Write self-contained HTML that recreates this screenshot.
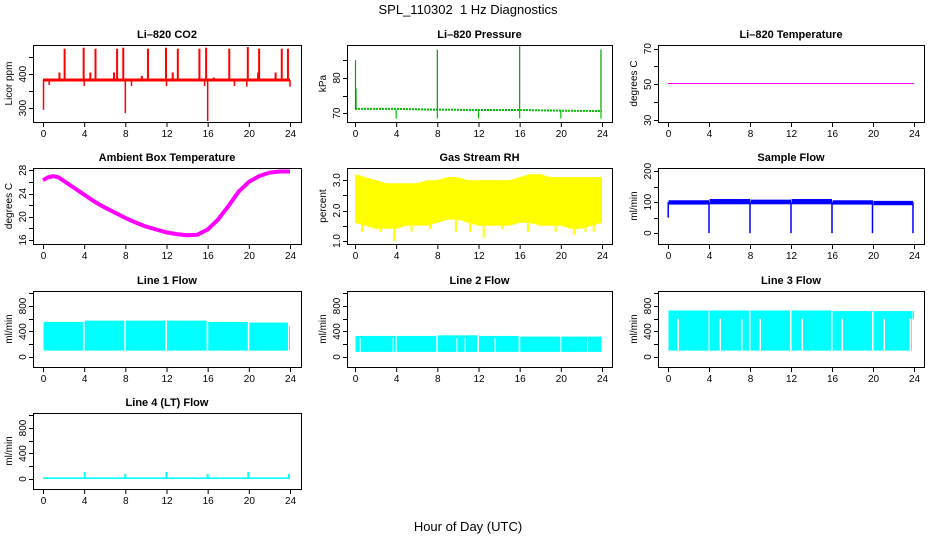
<!DOCTYPE html>
<html><head><meta charset="utf-8"><style>
body{margin:0;background:#fff}
svg{display:block;font-family:"Liberation Sans",sans-serif}
</style></head><body>
<svg id="c" width="936" height="540">
<text x="468" y="14" text-anchor="middle" font-size="13" style="white-space:pre">SPL_110302&#160; 1 Hz Diagnostics</text>
<text x="468" y="531" text-anchor="middle" font-size="13">Hour of Day (UTC)</text>
</svg>
<script>
// ---- data ----
const xTicks = [0,4,8,12,16,20,24];
const co2Base = 383;
const co2Spikes = [[2.1,475],[3.95,478],[5.1,475],[7.2,475],[7.8,478],[10.2,475],[11.95,478],[13.1,475],[15.2,475],[15.85,478],[18.1,475],[19.9,480],[21.0,475],[23.2,475],[23.8,475],[1.6,405],[4.6,405],[6.9,405],[9.6,395],[12.6,405],[16.6,390],[20.9,405],[22.6,405]];
const co2Dips = [[0.05,295],[8.0,285],[16.0,262],[0.6,368],[4.0,365],[8.6,365],[12.0,365],[15.7,365],[18.6,365],[19.8,363],[24,363]];
const presBase = [[0,71.2],[4,71.2],[8,71.0],[12,70.9],[16,70.9],[20,70.7],[24,70.6]];
const presSpikes = [[0.05,85],[0.1,77],[8.0,88],[16.0,89],[23.9,88]];
const presDips = [[4,68.5],[8,68.5],[12,68.5],[16,68.5],[20,68.5],[23.9,68.5]];
const tempLi = [[0,50.5],[24,50.5]];
const ambHours = [0,0.5,1,1.5,2,3,4,5,6,7,8,9,10,11,12,13,14,15,16,17,18,19,20,21,22,23,24];
const ambVals = [26.3,26.8,27.0,26.8,26.2,25.0,23.8,22.6,21.6,20.7,19.8,19.0,18.3,17.8,17.3,17.0,16.8,16.9,17.8,19.5,21.8,24.3,26.0,27.0,27.6,27.8,27.8];
const rhHours = [0,1,2,3,4,5,6,7,8,9,10,11,12,13,14,15,16,17,18,19,20,21,22,23,24];
const rhTop = [3.2,3.1,3.0,2.9,2.9,2.9,2.9,3.0,3.0,3.1,3.1,3.0,3.0,3.0,3.0,3.0,3.1,3.2,3.2,3.1,3.1,3.1,3.1,3.1,3.1];
const rhBot = [1.6,1.5,1.4,1.4,1.4,1.5,1.5,1.5,1.6,1.7,1.7,1.6,1.5,1.5,1.5,1.5,1.6,1.6,1.5,1.5,1.5,1.4,1.4,1.5,1.6];
const rhDips = [[0.7,1.3],[2.5,1.3],[3.8,1.0],[5.5,1.3],[7.3,1.4],[9.8,1.3],[11.2,1.3],[12.5,1.1],[14.3,1.4],[16.8,1.3],[19.5,1.3],[21.3,1.2],[22.4,1.3],[23.2,1.3]];
const flowBand = [[0.05,92,106],[4.05,93,110],[8.05,93,108],[12.05,93,110],[16.05,92,106],[20.05,90,104]];
const flowDrops = [[0.02,50],[4,0],[8,0],[12,0],[16,0],[19.95,0],[23.9,0]];
const line1Blocks = [[0.05,3.9,100,550],[4.05,7.9,100,570],[8.05,11.9,100,570],[12.05,15.9,100,570],[16.05,19.9,100,550],[20.05,23.8,100,540],[23.9,24,100,480]];
const line2Blocks = [[0.05,3.95,80,330],[4.05,7.9,80,330],[8.05,11.9,80,340],[12.05,15.9,80,330],[16.05,19.95,80,320],[20.05,23.95,80,320]];
const line2Gaps = [[0.5,300],[3.7,300],[9.9,300],[10.7,300],[13.6,300],[22.6,300]];
const line3Blocks = [[0.05,3.95,100,730],[4.05,7.9,100,730],[8.05,11.9,100,730],[12.05,15.9,100,730],[16.05,19.9,100,720],[20.05,23.8,100,720],[23.85,24,600,720]];
const line3Gaps = [[1.0,600],[5.1,600],[7.2,600],[9.0,600],[13.1,600],[17.0,600],[21.1,600],[23.65,600]];
const line4Base = [[0,24,0,25]];
const line4Spikes = [[4.05,110],[8.0,80],[12.0,110],[16.0,80],[19.95,110],[23.9,80]];

// ---- layout ----
const svg = document.getElementById('c');
const NS = 'http://www.w3.org/2000/svg';
const cols = [[33,301,43,290],[347,612,355,602],[658,924,668,914]];
const rows = [[45,122],[168,244],[291,367],[413,489]];
function el(tag, attrs, parent){const e=document.createElementNS(NS,tag);for(const k in attrs)e.setAttribute(k,attrs[k]);(parent||svg).appendChild(e);return e;}

function panel(r,c,title,ylab,ymin,ymax,ticks,labels,name){
  const [L,R,x0,x24]=cols[c],[T,B]=rows[r];
  const g=el('g',{});
  
  
  const sx=h=>x0+(x24-x0)*h/24;
  const sy=v=>B-(B-T)*(v-ymin)/(ymax-ymin);
  const t=el('text',{x:(L+R)/2,y:T-7,'text-anchor':'middle','font-size':11,'font-weight':'bold'},g);t.textContent=title;
  
  
  const plot=el('g',{},g);
  
  
  const box=el('rect',{x:L+0.5,y:T+0.5,width:R-L,height:B-T,fill:'none',stroke:'#000'},g);
  
  
  const xa=el('g',{stroke:'#000'},g);
  
  
  el('line',{x1:sx(xTicks[0]),x2:sx(xTicks[xTicks.length-1]),y1:B+0.5,y2:B+0.5},xa);
  xTicks.forEach(h=>{el('line',{x1:sx(h)+0.5,x2:sx(h)+0.5,y1:B,y2:B+5},xa);
    const tx=el('text',{x:sx(h)+0.5,y:B+15,'text-anchor':'middle','font-size':10,stroke:'none'},xa);tx.textContent=h;
    
    });
  const ya=el('g',{stroke:'#000'},g);
  
  
  el('line',{x1:L+0.5,x2:L+0.5,y1:sy(ticks[0]),y2:sy(ticks[ticks.length-1])},ya);
  ticks.forEach(v=>{el('line',{x1:L-4,x2:L,y1:Math.round(sy(v))+0.5,y2:Math.round(sy(v))+0.5},ya);});
  labels.forEach(v=>{const y=sy(v);const tx=el('text',{x:L-7,y:y,'text-anchor':'middle','font-size':10,stroke:'none',transform:`rotate(-90 ${L-7} ${y})`},ya);tx.textContent=v;
    
    });
  const yl=el('text',{x:L-21,y:(T+B)/2,'text-anchor':'middle','font-size':10,transform:`rotate(-90 ${L-21} ${(T+B)/2})`},g);yl.textContent=ylab;
  
  
  return {sx,sy,plot};
}
function vline(p,h,v1,v2,col,w){el('line',{x1:p.sx(h),x2:p.sx(h),y1:p.sy(v1),y2:p.sy(v2),stroke:col,'stroke-width':w||1.5},p.plot);}
function blocks(p,arr,col){arr.forEach(b=>{const y1=p.sy(b[3]),y2=p.sy(b[2]);el('rect',{x:p.sx(b[0]),y:y1,width:p.sx(b[1])-p.sx(b[0]),height:y2-y1,fill:col},p.plot);});}

let p=panel(0,0,'Li\u2013820 CO2','Licor ppm',259,486,[300,350,400,450],[300,400],'co2');
el('line',{x1:p.sx(0),x2:p.sx(24),y1:p.sy(co2Base),y2:p.sy(co2Base),stroke:'#f00','stroke-width':3},p.plot);
co2Spikes.forEach(s=>vline(p,s[0],co2Base,s[1],'#f00',2));
co2Dips.forEach(s=>vline(p,s[0],co2Base,s[1],'#f00',1.5));

p=panel(0,1,'Li\u2013820 Pressure','kPa',67.5,89.3,[70,75,80,85],[70,80],'pressure');
el('polyline',{points:presBase.map(d=>p.sx(d[0])+','+p.sy(d[1])).join(' '),fill:'none',stroke:'#00c000','stroke-width':2,'stroke-dasharray':'2 1'},p.plot);
presSpikes.forEach(s=>vline(p,s[0],71,s[1],'#00a000',1.2));
presDips.forEach(s=>vline(p,s[0],71,s[1],'#00c000',1.2));

p=panel(0,2,'Li\u2013820 Temperature','degrees C',29,72,[30,40,50,60,70],[30,50,70],'li820-temp');
el('polyline',{points:tempLi.map(d=>p.sx(d[0])+','+p.sy(d[1])).join(' '),fill:'none',stroke:'#f0f','stroke-width':1},p.plot);

p=panel(1,0,'Ambient Box Temperature','degrees C',15.3,28.4,[16,18,20,22,24,26,28],[16,20,24,28],'ambient-temp');
el('polyline',{points:ambHours.map((h,i)=>p.sx(h)+','+p.sy(ambVals[i])).join(' '),fill:'none',stroke:'#f0f','stroke-width':4,'stroke-linejoin':'round'},p.plot);

p=panel(1,1,'Gas Stream RH','percent',0.9,3.4,[1.0,1.5,2.0,2.5,3.0],['1.0','2.0','3.0'],'rh');
el('polygon',{points:rhHours.map((h,i)=>p.sx(h)+','+p.sy(rhTop[i])).concat(rhHours.slice().reverse().map((h,j)=>{const i=rhHours.length-1-j;return p.sx(h)+','+p.sy(rhBot[i]);})).join(' '),fill:'#ff0'},p.plot);
rhDips.forEach(s=>vline(p,s[0],2.0,s[1],'#ff0',2));

p=panel(1,2,'Sample Flow','ml/min',-35,210,[0,50,100,150,200],[0,100,200],'sample-flow');
blocks(p,flowBand.map((b,i)=>[b[0],i<flowBand.length-1?flowBand[i+1][0]-0.05:23.9,b[1],b[2]]),'#00f');
flowDrops.forEach(s=>vline(p,s[0],100,s[1],'#00f',1.5));

p=panel(2,0,'Line 1 Flow','ml/min',-157,1035,[0,200,400,600,800,1000],[0,400,800],'line1-flow');
blocks(p,line1Blocks,'#0ff');
p=panel(2,1,'Line 2 Flow','ml/min',-157,1035,[0,200,400,600,800,1000],[0,400,800],'line2-flow');
blocks(p,line2Blocks,'#0ff');
line2Gaps.forEach(s=>vline(p,s[0],80,s[1],'#fff',1));
p=panel(2,2,'Line 3 Flow','ml/min',-157,1035,[0,200,400,600,800,1000],[0,400,800],'line3-flow');
blocks(p,line3Blocks,'#0ff');
line3Gaps.forEach(s=>vline(p,s[0],100,s[1],'#fff',1.5));
p=panel(3,0,'Line 4 (LT) Flow','ml/min',-157,1035,[0,200,400,600,800,1000],[0,400,800],'line4-flow');
blocks(p,line4Base,'#0ff');
line4Spikes.forEach(s=>vline(p,s[0],10,s[1],'#0ff',2));
</script>
</body></html>
